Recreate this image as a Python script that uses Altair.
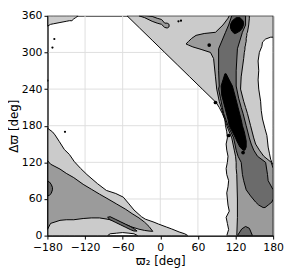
import altair as alt
import pandas as pd

# ---------------- data ----------------
X_TICKS = [-180, -120, -60, 0, 60, 120, 180]
Y_TICKS = [0, 60, 120, 180, 240, 300, 360]

# right-hand structure (horizontal bands: y -> x .. x2)
R1_Y  = [0, 10, 20, 30, 40, 50, 60, 70, 80, 90, 100, 110, 120, 130, 140, 150, 160, 170, 180, 190, 200, 210, 218, 240, 260, 280, 300, 320, 340, 360]
R1_XL = [106, 109, 107, 105, 110, 108, 107, 106, 108, 109, 106, 105, 107, 108, 106, 105, 107, 106, 104, 103, 99, 94, 89, 67, 47, 27, 7, -13, -33, -53]
R1_XR = [180] * len(R1_Y)

W_Y  = [117, 125, 135, 145, 155, 164, 175, 191, 205, 220, 240, 255, 270, 286, 300, 310, 317, 322, 325]
W_XL = [179, 176, 174, 172, 171, 170, 167, 163, 161, 160, 157, 156, 157, 156, 158, 162, 163, 168, 176]
W_XR = [180] * len(W_Y)

R2_Y  = [0, 30, 60, 100, 110, 120, 130, 140, 150, 160, 180, 200, 210, 220, 240, 260, 290, 300, 305, 309, 312, 314, 318, 323, 328, 331, 333, 345, 356, 360]
R2_XL = [122, 123, 123, 122, 121, 121, 120, 118, 116, 114, 106, 100, 97, 94, 90, 88, 85, 80, 65, 52, 45, 41, 45, 50, 57, 70, 88, 100, 108, 110]
R2_XR = [180, 180, 180, 180, 180, 177, 165, 158, 152, 149, 144, 139, 136, 133, 128, 129, 133, 134, 135, 135, 136, 136, 137, 137, 138, 138, 139, 141, 142, 142]

R3_Y  = [46, 50, 55, 60, 65, 75, 90, 100, 120, 130, 140, 150, 160, 180, 200, 210, 225, 240, 245, 270, 306, 333, 345, 360]
R3_XL = [164, 157, 152, 148, 144, 137, 133, 131, 129, 124, 121, 119, 117, 108, 101, 99, 96, 93, 94, 93, 93, 104, 109, 114]
R3_XR = [167, 172, 178, 180, 180, 180, 172, 171, 168, 155, 149, 145, 142, 137, 132, 129, 125, 122, 121, 121, 123, 131, 136, 136]

R4_Y  = [140, 145, 155, 160, 170, 180, 190, 210, 230, 245, 255, 265]
R4_XL = [132, 127, 122, 120, 115, 110, 108, 103, 98, 97, 100, 103]
R4_XR = [135, 137, 137, 136, 134, 131, 129, 124, 119, 115, 110, 105]

R4T_Y  = [331, 335, 340, 346, 352, 357]
R4T_XL = [118, 114, 112, 112, 115, 121]
R4T_XR = [120, 127, 131, 133, 132, 127]

# bottom-left structure (vertical bands: x -> y .. y2)
B1_X  = [-180, -172, -168, -161, -153, -145, -137, -127, -117, -100, -86, -71, -59, -50, -42, -30, -24, -10, -3, 10, 18, 30, 39, 44]
B1_Y2 = [176, 170, 165, 154, 141, 133, 121, 110, 100, 85, 74, 69, 63, 52, 42, 31, 27, 22, 19, 14, 11, 6, 3, 0]
B1_Y  = [0] * len(B1_X)

BW_X  = [-84, -80, -70, -60, -50, -42, -36]
BW_Y2 = [0, 3, 4, 5, 4, 3, 0]
BW_Y  = [0] * len(BW_X)

B2_X  = [-180, -175, -160, -150, -138, -123, -110, -97, -85, -70, -55, -45, -34, -25, -18, -12]
B2_Y  = [10, 20, 25, 26, 26, 28, 29, 29, 27, 24, 18, 14, 10.5, 8.5, 7.5, 7]
B2_Y2 = [123, 117, 109, 102, 95, 84, 76, 68, 61, 52, 43, 36, 29, 22, 15, 7]

B3_X  = [-84, -80, -72, -64, -56, -48, -42, -37]
B3_Y  = [30, 26, 22, 18, 14, 10, 7.5, 7.5]
B3_Y2 = [30, 31, 27, 23, 19, 15, 11.5, 7.5]

B3L_X  = [-180, -177, -174, -172]
B3L_Y  = [65, 66, 69, 75]
B3L_Y2 = [89, 88, 84, 79]

D_X  = [123, 130, 136, 142, 147]
D_Y  = [0, 0, 0, 0, 0]
D_Y2 = [0, 11, 15, 12, 0]

# top strips
TL_X  = [-180, -175, -170, -160, -150, -145, -141, -138, -135, -131]
TL_Y  = [343, 346, 347, 349, 351, 352, 352, 355, 357, 360]
TL_Y2 = [360] * len(TL_X)

F_X  = [-34, -25, -13, -5, 2, 7, 11, 14]
F_Y  = [360, 357, 351, 348, 346, 341, 340, 342]
F_Y2 = [360, 360, 359, 356, 354, 348, 348, 346]

# isolated specks
DOT_X = [88, 109, 132, 78]
DOT_Y = [218, 164, 136, 312]
SPECK_X = [-180, -172, -169, 29, 33, -152]
SPECK_Y = [254, 308, 322, 351, 352, 170]

LIGHT, MED, DARK, BLACK = "#cbcbcb", "#9b9b9b", "#6b6b6b", "#000000"
FONT = "DejaVu Sans"

xs = alt.Scale(domain=[-180, 180], nice=False, zero=False)
ys = alt.Scale(domain=[0, 360], nice=False, zero=False)
xaxis = alt.Axis(values=X_TICKS, title="ϖ₂ [deg]", grid=False, zindex=1,
                 labelFlush=False, labelOverlap=False, labelPadding=3, titlePadding=3)
yaxis = alt.Axis(values=Y_TICKS, title="Δϖ [deg]", grid=False, zindex=1,
                 labelFlush=False, labelOverlap=False, labelPadding=2, titlePadding=1)
X = alt.X("x:Q", scale=xs, axis=xaxis)
Y = alt.Y("y:Q", scale=ys, axis=yaxis)


def hband(yv, xl, xr, color):
    df = pd.DataFrame({"y": yv, "x": xl, "x2": xr})
    return alt.Chart(df).mark_area(orient="horizontal", fill=color, stroke="black",
                                   strokeWidth=1, clip=True).encode(y=Y, x=X, x2="x2:Q")


def vband(xv, yl, yh, color):
    df = pd.DataFrame({"x": xv, "y": yl, "y2": yh})
    return alt.Chart(df).mark_area(orient="vertical", fill=color, stroke="black",
                                   strokeWidth=1, clip=True).encode(x=X, y=Y, y2="y2:Q")


grid_x = alt.Chart(pd.DataFrame({"x": X_TICKS})).mark_rule(color="#dedede", strokeWidth=1).encode(x=X)
grid_y = alt.Chart(pd.DataFrame({"y": Y_TICKS})).mark_rule(color="#dedede", strokeWidth=1).encode(y=Y)

layers = [
    grid_x, grid_y,
    hband(R1_Y, R1_XL, R1_XR, LIGHT),
    vband(B1_X, B1_Y, B1_Y2, LIGHT),
    vband(TL_X, TL_Y, TL_Y2, LIGHT),
    hband(W_Y, W_XL, W_XR, "white"),
    vband(BW_X, BW_Y, BW_Y2, "white"),
    hband(R2_Y, R2_XL, R2_XR, MED),
    vband(B2_X, B2_Y, B2_Y2, MED),
    vband(F_X, F_Y, F_Y2, MED),
    hband(R3_Y, R3_XL, R3_XR, DARK),
    vband(D_X, D_Y, D_Y2, DARK),
    vband(B3_X, B3_Y, B3_Y2, DARK),
    vband(B3L_X, B3L_Y, B3L_Y2, DARK),
    hband(R4_Y, R4_XL, R4_XR, BLACK),
    hband(R4T_Y, R4T_XL, R4T_XR, BLACK),
    alt.Chart(pd.DataFrame({"x": DOT_X, "y": DOT_Y})).mark_circle(color="black", size=14, opacity=1, clip=True).encode(x=X, y=Y),
    alt.Chart(pd.DataFrame({"x": SPECK_X, "y": SPECK_Y})).mark_circle(color="black", size=5, opacity=1, clip=True).encode(x=X, y=Y),
]

chart = alt.layer(*layers).properties(
    width=229, height=223,
    autosize=alt.AutoSizeParams(type="none"),
    padding={"left": 40, "top": 6, "right": 11, "bottom": 36},
).configure_view(stroke="black", strokeWidth=1).configure_axis(
    labelFont=FONT, titleFont=FONT, labelFontSize=11, titleFontSize=12,
    labelColor="black", titleColor="black", domainColor="black", tickColor="black",
    tickSize=3.5, titleFontWeight="normal",
)

chart.save("out.html", embed_options={"renderer": "svg", "actions": False})
